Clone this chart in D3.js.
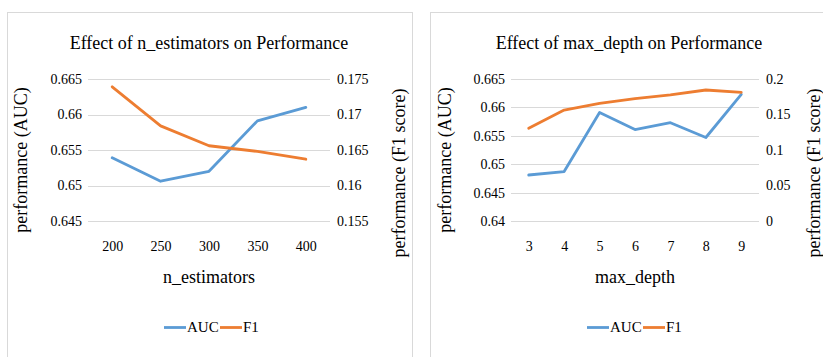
<!DOCTYPE html>
<html>
<head>
<meta charset="utf-8">
<script src="https://cdn.jsdelivr.net/npm/d3@7"></script>
<style>
  body { margin: 0; background: #fff; }
</style>
</head>
<body>
<svg id="chart" width="823" height="357"></svg>
<script>
// chart 1: n_estimators
var nEstimators = ['200', '250', '300', '350', '400'];
var nEstAuc = [0.6539, 0.6506, 0.6520, 0.6591, 0.6610];
var nEstF1 = [0.1739, 0.1684, 0.1656, 0.1648, 0.1637];
var nEstAucTicks = [0.645, 0.65, 0.655, 0.66, 0.665];
var nEstF1Ticks = [0.155, 0.16, 0.165, 0.17, 0.175];

// chart 2: max_depth
var maxDepth = ['3', '4', '5', '6', '7', '8', '9'];
var depthAuc = [0.6481, 0.6487, 0.6591, 0.6561, 0.6573, 0.6547, 0.6623];
var depthF1 = [0.1306, 0.1563, 0.1658, 0.1723, 0.1775, 0.1845, 0.1813];
var depthAucTicks = [0.64, 0.645, 0.65, 0.655, 0.66, 0.665];
var depthF1Ticks = [0, 0.05, 0.1, 0.15, 0.2];

var blue = '#5b9bd5';
var orange = '#ed7d31';
var grid = '#d9d9d9';

var svg = d3.select('#chart');

function styleText(sel, size) {
    sel.attr('font-family', 'Liberation Serif').attr('font-size', size)
        .attr('fill', '#000');
}

function drawPanel(opt) {
    var g = svg.append('g');

    // panel frame
    g.append('rect')
        .attr('x', opt.box[0] + 0.5).attr('y', opt.box[1] + 0.5)
        .attr('width', opt.box[2]).attr('height', opt.box[3])
        .attr('fill', '#fff').attr('stroke', grid).attr('stroke-width', 1);

    var x = d3.scalePoint().domain(opt.cats)
        .range([opt.plot[0], opt.plot[1]]).padding(0.5);
    var yL = d3.scaleLinear().domain(d3.extent(opt.leftTicks)).range([opt.plot[3], opt.plot[2]]);
    var yR = d3.scaleLinear().domain(d3.extent(opt.rightTicks)).range([opt.plot[3], opt.plot[2]]);

    // gridlines
    g.append('g').selectAll('line')
        .data(opt.leftTicks)
        .enter().append('line')
        .attr('x1', opt.plot[0]).attr('x2', opt.plot[1])
        .attr('y1', function (d) { return Math.round(yL(d)) + 0.5; })
        .attr('y2', function (d) { return Math.round(yL(d)) + 0.5; })
        .attr('stroke', grid).attr('stroke-width', 1);

    var fmt = function (d) { return String(+d.toFixed(3)); };

    // left axis
    var la = g.append('g')
        .attr('transform', 'translate(' + (opt.plot[0] - 6) + ',0)')
        .call(d3.axisLeft(yL).tickValues(opt.leftTicks).tickSize(0).tickPadding(0).tickFormat(fmt));
    la.attr('font-family', null);
    la.select('.domain').remove();
    styleText(la.selectAll('text'), 14);

    // right axis
    var ra = g.append('g')
        .attr('transform', 'translate(' + (opt.plot[1] + 7) + ',0)')
        .call(d3.axisRight(yR).tickValues(opt.rightTicks).tickSize(0).tickPadding(0).tickFormat(fmt));
    ra.attr('font-family', null);
    ra.select('.domain').remove();
    styleText(ra.selectAll('text'), 14);

    // bottom axis
    var ba = g.append('g')
        .attr('transform', 'translate(0,' + (opt.plot[3] + 20) + ')')
        .call(d3.axisBottom(x).tickSize(0).tickPadding(0));
    ba.attr('font-family', null);
    ba.select('.domain').remove();
    styleText(ba.selectAll('text'), 14);

    // lines
    var lineL = d3.line()
        .x(function (d, i) { return x(opt.cats[i]); })
        .y(function (d) { return yL(d); });
    var lineR = d3.line()
        .x(function (d, i) { return x(opt.cats[i]); })
        .y(function (d) { return yR(d); });

    g.append('path').datum(opt.auc)
        .attr('d', lineL).attr('fill', 'none').attr('stroke', blue)
        .attr('stroke-width', 2.8).attr('stroke-linejoin', 'round').attr('stroke-linecap', 'round');
    g.append('path').datum(opt.f1)
        .attr('d', lineR).attr('fill', 'none').attr('stroke', orange)
        .attr('stroke-width', 2.8).attr('stroke-linejoin', 'round').attr('stroke-linecap', 'round');

    // titles
    styleText(g.append('text')
        .attr('x', opt.titleX).attr('y', 49)
        .attr('text-anchor', 'middle')
        .text(opt.title), 18);
    styleText(g.append('text')
        .attr('x', opt.xTitleX).attr('y', 283)
        .attr('text-anchor', 'middle')
        .text(opt.xTitle), 18);
    styleText(g.append('text')
        .attr('transform', 'translate(' + opt.yLeftX + ',160) rotate(-90)')
        .attr('text-anchor', 'middle')
        .text('performance (AUC)'), 18);
    styleText(g.append('text')
        .attr('transform', 'translate(' + opt.yRightX + ',173) rotate(-90)')
        .attr('text-anchor', 'middle')
        .text('performance (F1 score)'), 18);

    // legend
    var lg = g.append('g').attr('transform', 'translate(' + opt.legendX + ',327.5)');
    lg.append('line').attr('x1', 0).attr('x2', 22).attr('stroke', blue).attr('stroke-width', 2.8);
    styleText(lg.append('text').attr('x', 23).attr('y', 4.5).text('AUC'), 15);
    lg.append('line').attr('x1', 56).attr('x2', 78).attr('stroke', orange).attr('stroke-width', 2.8);
    styleText(lg.append('text').attr('x', 79).attr('y', 4.5).text('F1'), 15);
}

drawPanel({
    box: [7, 12, 405, 360],
    plot: [88, 330, 79, 221],
    cats: nEstimators, auc: nEstAuc, f1: nEstF1,
    leftTicks: nEstAucTicks, rightTicks: nEstF1Ticks,
    title: 'Effect of n_estimators on Performance', titleX: 209,
    xTitle: 'n_estimators', xTitleX: 209,
    yLeftX: 27, yRightX: 405, legendX: 164
});

drawPanel({
    box: [430, 12, 410, 360],
    plot: [511, 759, 79, 221],
    cats: maxDepth, auc: depthAuc, f1: depthF1,
    leftTicks: depthAucTicks, rightTicks: depthF1Ticks,
    title: 'Effect of max_depth on Performance', titleX: 629,
    xTitle: 'max_depth', xTitleX: 635,
    yLeftX: 451, yRightX: 820, legendX: 587
});
</script>
</body>
</html>
